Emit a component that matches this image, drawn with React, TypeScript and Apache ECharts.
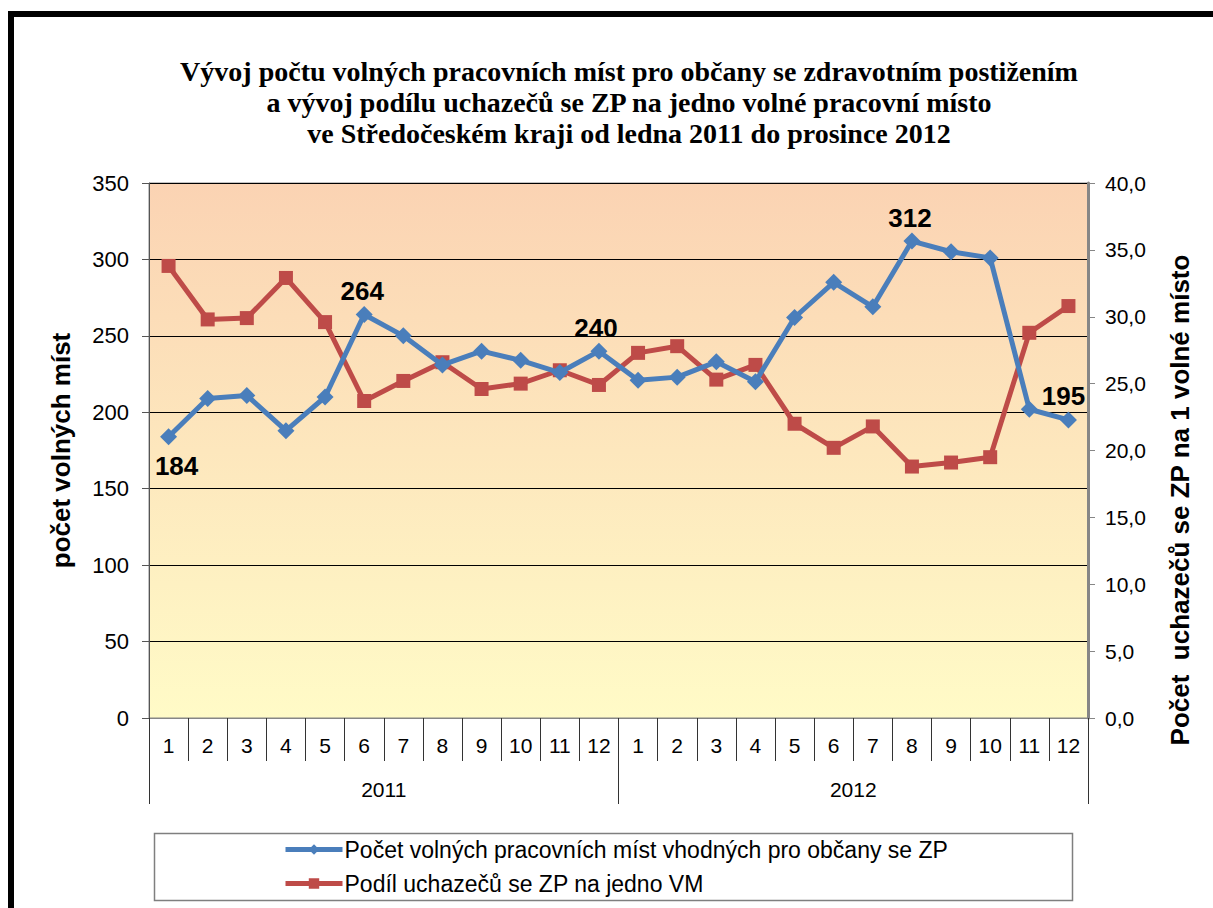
import React, { useEffect, useRef } from "react";
import * as echarts from "echarts";

const months = ["1","2","3","4","5","6","7","8","9","10","11","12","1","2","3","4","5","6","7","8","9","10","11","12"];
const years = ["2011", "2012"];
const vacancies = [184, 209, 211, 188, 210, 264, 250, 231, 240, 234, 226, 240, 221, 223, 233, 220, 262, 285, 269, 312, 305, 301, 202, 195];
const applicantsPerVacancy = [33.8, 29.8, 29.9, 32.9, 29.6, 23.7, 25.2, 26.6, 24.6, 25.0, 26.0, 24.9, 27.3, 27.8, 25.3, 26.4, 22.0, 20.2, 21.8, 18.8, 19.1, 19.5, 28.8, 30.8];
const labelledPoints: { index: number; position: string }[] = [
  { index: 0, position: "bottom" },
  { index: 5, position: "top" },
  { index: 11, position: "top" },
  { index: 19, position: "top" },
  { index: 23, position: "top" },
];
const leftTicks = { min: 0, max: 350, interval: 50 };
const rightTicks = { min: 0, max: 40, interval: 5 };
const seriesNames = [
  "Počet volných pracovních míst vhodných pro občany se ZP",
  "Podíl uchazečů se ZP na jedno VM",
];
const titleLines = [
  "Vývoj počtu volných pracovních míst pro občany se zdravotním postižením",
  "a vývoj podílu uchazečů se ZP na jedno volné pracovní místo",
  "ve Středočeském kraji od ledna 2011 do prosince 2012",
];
const leftAxisName = "počet volných míst";
const rightAxisName = "Počet  uchazečů se ZP na 1 volné místo";

const SANS = '"Liberation Sans", Arial, sans-serif';
const SERIF = '"Liberation Serif", "Times New Roman", serif';

export default function App() {
  const ref = useRef<HTMLDivElement>(null);
  useEffect(() => {
    if (!ref.current) return;
    const chart = echarts.init(ref.current, undefined, { renderer: "svg" });
    const blueData = vacancies.map((v, i) => {
      const lp = labelledPoints.find((p) => p.index === i);
      if (!lp) return v;
      return {
        value: v,
        label: {
          show: true,
          position: lp.position,
          distance: lp.position === "bottom" ? 8 : 2,
          offset: i === 23 ? [-5, 0] : i === 0 ? [8, 0] : i === 11 ? [-3, 0] : [-2, 0],
          fontFamily: SANS,
          fontWeight: "bold",
          fontSize: 26,
          color: "#000",
        },
      };
    });
    chart.setOption({
      animation: false,
      backgroundColor: "#fff",
      textStyle: { fontFamily: SANS },
      grid: {
        left: 149,
        right: 125,
        top: 183,
        bottom: 190,
        show: true,
        borderColor: "#868686",
        borderWidth: 1,
        backgroundColor: new echarts.graphic.LinearGradient(0, 0, 0, 1, [
          { offset: 0, color: "#FBD3B3" },
          { offset: 1, color: "#FFFBC7" },
        ]),
      },
      legend: {
        orient: "vertical",
        left: 283,
        top: 838,
        itemWidth: 57,
        itemHeight: 13,
        itemGap: 11,
        padding: 0,
        lineStyle: { width: 5 },
        textStyle: { fontFamily: SANS, fontSize: 23, color: "#000", lineHeight: 23, padding: [0, 0, 0, -3] },
        data: seriesNames,
      },
      xAxis: [
        {
          type: "category",
          data: months,
          boundaryGap: true,
          axisLine: { show: true, lineStyle: { color: "#868686", width: 1 } },
          axisTick: { show: true, interval: 0, length: 43, lineStyle: { color: "#333" } },
          axisLabel: { interval: 0, margin: 17, fontSize: 21, color: "#000", fontFamily: SANS },
        },
        {
          type: "category",
          data: years,
          position: "bottom",
          boundaryGap: true,
          axisLine: { show: false },
          axisTick: { show: true, interval: 0, length: 86, lineStyle: { color: "#333" } },
          axisLabel: { interval: 0, margin: 61, fontSize: 21, color: "#000", fontFamily: SANS },
        },
      ],
      yAxis: [
        {
          type: "value",
          min: leftTicks.min,
          max: leftTicks.max,
          interval: leftTicks.interval,
          position: "left",
          name: leftAxisName,
          nameLocation: "middle",
          nameGap: 75,
          nameRotate: 90,
          nameTextStyle: { fontFamily: SANS, fontWeight: "bold", fontSize: 26, color: "#000" },
          axisLine: { show: true, lineStyle: { color: "#555", width: 1 } },
          axisTick: { show: true, length: 7, lineStyle: { color: "#555" } },
          axisLabel: { margin: 20, fontSize: 22, color: "#000", fontFamily: SANS },
          splitLine: { show: true, lineStyle: { color: "#000", width: 1 } },
        },
        {
          type: "value",
          min: rightTicks.min,
          max: rightTicks.max,
          interval: rightTicks.interval,
          position: "right",
          axisLine: { show: true, lineStyle: { color: "#868686", width: 3 } },
          axisTick: { show: true, length: 7, lineStyle: { color: "#868686" } },
          axisLabel: {
            margin: 17,
            fontSize: 21,
            color: "#000",
            fontFamily: SANS,
            formatter: (v: number) => v.toFixed(1).replace(".", ","),
          },
          splitLine: { show: false },
        },
      ],
      series: [
        {
          name: seriesNames[0],
          type: "line",
          xAxisIndex: 0,
          yAxisIndex: 0,
          data: blueData,
          symbol: "diamond",
          symbolSize: 17,
          lineStyle: { color: "#4A7EBB", width: 5 },
          itemStyle: { color: "#4A7EBB" },
          z: 3,
        },
        {
          name: seriesNames[1],
          type: "line",
          xAxisIndex: 0,
          yAxisIndex: 1,
          data: applicantsPerVacancy,
          symbol: "rect",
          symbolSize: 14,
          lineStyle: { color: "#BE4B48", width: 5 },
          itemStyle: { color: "#BE4B48" },
          z: 2,
        },
      ],
      graphic: [
        {
          type: "rect",
          shape: { x: 11, y: 14, width: 1300, height: 1000 },
          style: { fill: "none", stroke: "#000", lineWidth: 6 },
          z: 10,
        },
        {
          type: "text",
          x: 629,
          y: 56,
          style: {
            text: titleLines.join("\n"),
            font: `bold 28px ${SERIF}`,
            textAlign: "center",
            lineHeight: 31,
            fill: "#000",
          },
        },
        {
          type: "text",
          x: 1180,
          y: 500,
          rotation: Math.PI / 2,
          style: {
            text: rightAxisName,
            font: `bold 26px ${SANS}`,
            textAlign: "center",
            textVerticalAlign: "middle",
            fill: "#000",
          },
        },
        {
          type: "rect",
          shape: { x: 154.5, y: 833.5, width: 918, height: 67 },
          style: { fill: "none", stroke: "#7f7f7f", lineWidth: 1.5 },
          z: -1,
        },
      ],
    });
    return () => chart.dispose();
  }, []);
  return <div ref={ref} style={{ width: 1213, height: 908, position: "absolute", left: 0, top: 0 }} />;
}
